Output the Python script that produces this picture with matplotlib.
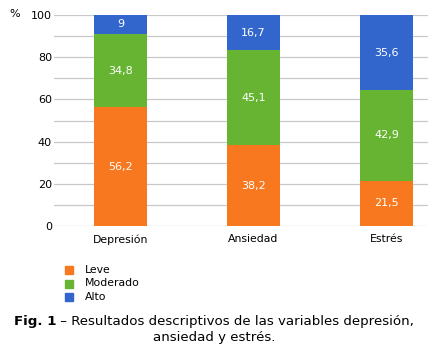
import matplotlib
matplotlib.use("Agg")
import matplotlib.pyplot as plt
from matplotlib.patches import Rectangle

categories = ["Depresión", "Ansiedad", "Estrés"]
series_names = ["Leve", "Moderado", "Alto"]
leve = [56.2, 38.2, 21.5]
moderado = [34.8, 45.1, 42.9]
alto = [9, 16.7, 35.6]
yticks = [0, 20, 40, 60, 80, 100]
colors = ["#F7781E", "#67B432", "#3366CC"]

W, H = 428, 345
fig = plt.figure(figsize=(W / 100, H / 100), dpi=100)
plt.rcParams['font.family'] = ['DejaVu Sans']

ax = fig.add_axes([54 / W, 1 - 226 / H, (W - 54) / W, (226 - 15) / H])
x = list(range(len(categories)))
bottom = [0] * len(categories)
for name, vals, c in zip(series_names, [leve, moderado, alto], colors):
    ax.bar(x, vals, width=0.4, bottom=bottom, color=c, label=name, zorder=3)
    for xi, b, v in zip(x, bottom, vals):
        lab = ("%g" % v).replace(".", ",")
        ax.text(xi, b + v / 2, lab, ha="center", va="center", color="white", fontsize=8, zorder=4)
    bottom = [b + v for b, v in zip(bottom, vals)]

ax.set_xlim(-0.5, (W - 54) / 133 - 0.5)
ax.set_ylim(0, 100)
ax.set_yticks(yticks)
ax.set_yticks(range(0, 101, 10), minor=True)
ax.grid(axis="y", which="both", color="#C8C8C8", linewidth=0.9, zorder=0)
ax.tick_params(axis="y", which="both", length=0, labelsize=8, pad=1.5)
ax.tick_params(axis="x", length=0, labelsize=7.8, pad=6)
ax.set_xticks(x)
ax.set_xticklabels(categories)
for s in ax.spines.values():
    s.set_visible(False)
ax.set_axisbelow(True)

fig.text(15 / W, 1 - 14 / H, "%", fontsize=8, ha="center", va="center")

# legend
for i, (name, c) in enumerate(zip(series_names, colors)):
    yc = 270 + 13.5 * i
    fig.patches.append(Rectangle((65 / W, 1 - (yc + 4) / H), 8 / W, 8 / H,
                                 transform=fig.transFigure, color=c, figure=fig))
    fig.text(85 / W, 1 - yc / H, name, fontsize=7.8, ha="left", va="center")

# caption
fig.canvas.draw()
r = fig.canvas.get_renderer()
t1 = fig.text(0, 1 - 322 / H, "Fig. 1", fontsize=9.6, fontweight="bold", ha="left", va="center")
t2 = fig.text(0, 1 - 322 / H, " \u2013 Resultados descriptivos de las variables depresión,", fontsize=9.6, ha="left", va="center")
w1 = t1.get_window_extent(r).width
w2 = t2.get_window_extent(r).width
start = (W - (w1 + w2)) / 2
t1.set_x(start / W)
t2.set_x((start + w1) / W)
fig.text(0.5, 1 - 337 / H, "ansiedad y estrés.", fontsize=9.6, ha="center", va="center")

fig.savefig("out.png", dpi=100)
